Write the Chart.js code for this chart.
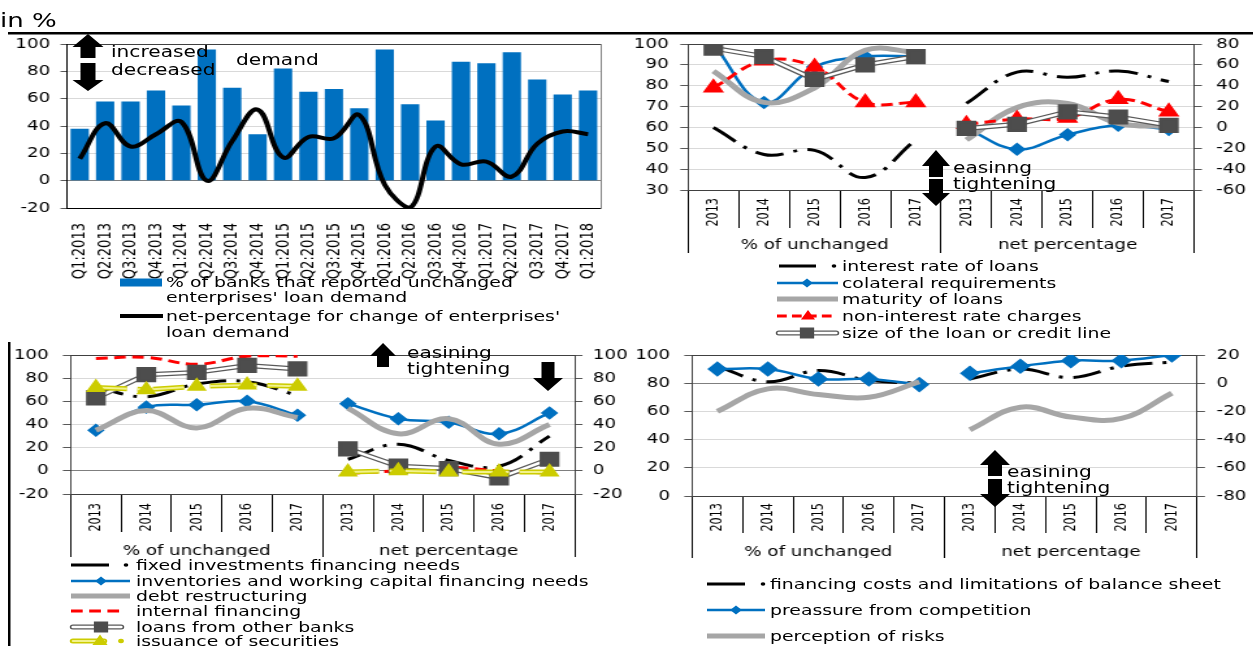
<!DOCTYPE html>
<html>
<head>
<meta charset="utf-8">
<script src="https://cdn.jsdelivr.net/npm/chart.js@4.4.1/dist/chart.umd.min.js"></script>
<style>
html, body { margin: 0; padding: 0; background: #fff; }
body { width: 1253px; height: 646px; overflow: hidden; position: relative; font-family: 'DejaVu Sans', sans-serif; }
#stage { position: absolute; left: 0; top: 0; width: 964px; height: 646px; transform: scaleX(1.3); transform-origin: 0 0; }
.t { position: absolute; white-space: nowrap; color: #000; }
svg { position: absolute; left: 0; top: 0; }
</style>
</head>
<body>
<div id="stage"></div>
<script>
// the whole picture is stretched sideways, so everything is laid out narrow and scaled by S
const S = 1.3;

// chart 1 - demand
const quarters = ['Q1:2013','Q2:2013','Q3:2013','Q4:2013','Q1:2014','Q2:2014','Q3:2014','Q4:2014','Q1:2015','Q2:2015','Q3:2015','Q4:2015','Q1:2016','Q2:2016','Q3:2016','Q4:2016','Q1:2017','Q2:2017','Q3:2017','Q4:2017','Q1:2018'];
const unchangedDemand = [38, 58, 58, 66, 55, 96, 68, 34, 82, 65, 67, 53, 96, 56, 44, 87, 86, 94, 74, 63, 66];
const netDemand = [16, 42, 25, 34, 43, 0, 29, 52, 17, 32, 31, 48, -3, -20, 25, 12, 14, 3, 27, 36, 34];

// charts 2-4: first five values are % of unchanged (left axis), last five net percentage (right axis)
const years = ['2013','2014','2015','2016','2017','2013','2014','2015','2016','2017'];
const groups = ['% of unchanged', 'net percentage'];

const interestRate = [60, 47, 49, 36, 54, 23, 53, 48, 54, 44];
const collateral = [100, 72, 89, 94, 94, -1, -21, -7, 2, -2];
const maturity = [87, 72, 79, 97, 96, -12, 19, 23, 4, 1];
const nonInterest = [79, 92, 89, 72, 72, 3, 8, 9, 27, 15];
const loanSize = [98, 94, 83, 90, 94, -1, 3, 15, 10, 2];

const fixedInvestment = [72, 64, 75, 77, 65, 10, 23, 9, 4, 30];
const inventories = [35, 55, 57, 60, 48, 58, 45, 42, 32, 50];
const debtRestructuring = [35, 52, 37, 54, 46, 54, 32, 45, 23, 40];
const internalFinancing = [97, 98, 92, 99, 99, -2, 0, 3, 0, -2];
const otherBanks = [63, 83, 85, 91, 88, 19, 4, 2, -6, 10];
const securities = [72, 70, 73, 74, 73, -1, 0, -1, -1, -1];

const financingCosts = [92, 81, 89, 82, 80, 3, 10, 4, 12, 15];
const competition = [90, 90, 83, 83, 79, 7, 12, 16, 16, 20];
const riskPerception = [60, 76, 72, 70, 81, -33, -17, -24, -25, -7];

Chart.defaults.font.family = "'DejaVu Sans', sans-serif";
Chart.defaults.font.size = 14;
Chart.defaults.color = '#000';
Chart.defaults.animation = false;
Chart.defaults.events = [];
Chart.defaults.plugins.legend.display = false;
Chart.defaults.plugins.tooltip.enabled = false;

const stage = document.getElementById('stage');
const condensed = "'DejaVu Sans Condensed', 'DejaVu Sans', sans-serif";

function makeCanvas(x, y, w, h) {
  const c = document.createElement('canvas');
  const W = Math.round(w / S);
  c.width = W; c.height = h;
  c.style.position = 'absolute';
  c.style.left = (x / S) + 'px';
  c.style.top = y + 'px';
  stage.appendChild(c);
  return c;
}

function text(x, yc, html, size, lh) {
  const d = document.createElement('div');
  d.className = 't';
  d.style.left = (x / S) + 'px';
  d.style.top = (yc - lh / 2) + 'px';
  d.style.fontSize = size + 'px';
  d.style.lineHeight = lh + 'px';
  d.innerHTML = html;
  stage.appendChild(d);
}

function gridColor(top, dark) {
  return ctx => {
    const v = ctx.tick.value;
    if (v === top) return '#404040';
    if (v === dark) return '#7F7F7F';
    return '#D9D9D9';
  };
}

// fixed axis width, and no extra room above/below for the end labels
function fixW(w) {
  return s => { s.width = w; s.paddingTop = 0; s.paddingBottom = 0; };
}

// one series = two datasets, left part on y and right part on y2, no line across the gap
function pair(label, values, style, k, shift) {
  const gap = [null, null, null, null, null];
  const ord = 100 - 10 * k + (shift || 0);
  return [
    Object.assign({ label: label, order: ord, yAxisID: 'y', data: values.slice(0, 5).concat(gap) }, style),
    Object.assign({ label: label, order: ord, yAxisID: 'y2', data: gap.concat(values.slice(5)) }, style)
  ];
}
function tube(label, values, outer, inner, k) {
  return pair(label, values, Object.assign({ pointRadius: 0, tension: 0 }, outer), k)
    .concat(pair(label, values, Object.assign({ tension: 0 }, inner), k, -1));
}

const dashDot = { borderColor: '#000', borderWidth: 3, borderDash: [22, 8, 3, 8], pointRadius: 0, tension: 0.4 };
const blueLine = { borderColor: '#0070C0', borderWidth: 2.5, pointStyle: 'rectRot', pointRadius: 5, pointBackgroundColor: '#0070C0', pointBorderColor: '#0070C0', tension: 0.4 };
const grayLine = { borderColor: '#A6A6A6', borderWidth: 5, pointRadius: 0, tension: 0.4 };
const redTri = { borderColor: '#FF0000', borderWidth: 3, borderDash: [9, 5], pointStyle: 'triangle', pointRadius: 6.5, pointBackgroundColor: '#FF0000', pointBorderColor: '#FF0000', tension: 0.4 };
const redDash = { borderColor: '#FF0000', borderWidth: 3, borderDash: [9, 5], pointRadius: 0, tension: 0.4 };
const sqOuter = { borderColor: '#595959', borderWidth: 5 };
const sqInner = { borderColor: '#FFFFFF', borderWidth: 2.5, pointStyle: 'rect', pointRadius: 9, pointBackgroundColor: '#4D4D4D', pointBorderColor: '#4D4D4D' };
const ylOuter = { borderColor: '#CCCC00', borderWidth: 5, borderDash: [24, 8, 4, 8] };
const ylInner = { borderColor: '#F2F28C', borderWidth: 2, borderDash: [24, 8, 4, 8], pointStyle: 'triangle', pointRadius: 7, pointBackgroundColor: '#CCCC00', pointBorderColor: '#CCCC00' };

function panelChart(canvas, datasets, o) {
  return new Chart(canvas, {
    type: 'line',
    data: { labels: years, datasets: datasets },
    options: {
      responsive: false,
      layout: { autoPadding: false, padding: { top: o.padTop, bottom: o.padBottom, left: 0, right: 0 } },
      scales: {
        x: {
          weight: 0, offset: true,
          grid: { offset: true, drawOnChartArea: false, tickLength: o.band1, color: '#000' },
          border: { color: '#404040' },
          ticks: { autoSkip: false, minRotation: 90, maxRotation: 90, padding: o.gap - o.band1, font: { family: condensed, size: 12.5 } },
          afterFit: s => { s.height = o.band1; }
        },
        g: {
          type: 'category', axis: 'x', position: 'bottom', weight: 1,
          labels: groups, offset: true,
          grid: { offset: true, drawOnChartArea: false, tickLength: o.band2, color: '#000' },
          border: { display: false },
          ticks: { autoSkip: false, minRotation: 0, maxRotation: 0, padding: o.gpad, font: { size: 14 } },
          afterFit: s => { s.height = o.band2; }
        },
        y: {
          position: 'left', min: o.y[0], max: o.y[1],
          ticks: { stepSize: o.y[2], padding: o.lpad, autoSkip: false },
          grid: { color: gridColor(o.y[1], o.dark), tickLength: 6, tickColor: '#595959' },
          border: { color: '#404040' },
          afterFit: fixW(o.leftW)
        },
        y2: {
          position: 'right', min: o.y2[0], max: o.y2[1],
          ticks: { stepSize: o.y2[2], padding: o.rpad, autoSkip: false },
          grid: { drawOnChartArea: false, tickLength: 6, color: '#595959' },
          border: { color: '#404040' },
          afterFit: fixW(o.rightW)
        }
      }
    }
  });
}

// ---- chart 1
const c1 = makeCanvas(0, 36, 620, 246);
new Chart(c1, {
  type: 'bar',
  data: {
    labels: quarters,
    datasets: [
      { type: 'line', label: "net-percentage for change of enterprises' loan demand", data: netDemand, borderColor: '#000', borderWidth: 4, pointRadius: 0, tension: 0.4, order: 0 },
      { type: 'bar', label: "% of banks that reported unchanged enterprises' loan demand", data: unchangedDemand, backgroundColor: '#0070C0', barPercentage: 0.72, categoryPercentage: 1, order: 1 }
    ]
  },
  options: {
    responsive: false,
    layout: { autoPadding: false, padding: { top: 8, right: 477 - 604 / S - 2.5, left: 0, bottom: 0 } },
    scales: {
      x: {
        grid: { display: false },
        border: { color: '#000' },
        ticks: { autoSkip: false, minRotation: 90, maxRotation: 90, padding: 7, font: { family: condensed, size: 14.5 } },
        afterFit: s => { s.height = 74; }
      },
      y: {
        min: -20, max: 100,
        ticks: { stepSize: 20, padding: 8, autoSkip: false },
        grid: { color: gridColor(100, 0), tickLength: 5, tickColor: '#595959' },
        border: { color: '#000' },
        afterFit: fixW(67 / S)
      },
      y2: {
        position: 'right', min: -20, max: 100,
        ticks: { display: false }, grid: { display: false },
        border: { color: '#808080' },
        afterFit: fixW(0)
      }
    }
  }
});

// ---- chart 2
const c2 = makeCanvas(620, 36, 633, 220);
panelChart(c2, [].concat(
  pair('interest rate of loans', interestRate, dashDot, 0),
  pair('colateral requirements', collateral, blueLine, 1),
  pair('maturity of loans', maturity, grayLine, 2),
  pair('non-interest rate charges', nonInterest, redTri, 3),
  tube('size of the loan or credit line', loanSize, sqOuter, sqInner, 4)
), { padTop: 8, padBottom: 3, band1: 38, band2: 25, gap: 8, gpad: -16.4,
     leftW: (688 - 620) / S, rightW: 487 - (1194 - 620) / S, lpad: 9, rpad: 11,
     y: [30, 100, 10], y2: [-60, 80, 20], dark: null });

// ---- chart 3
const c3 = makeCanvas(12, 345, 628, 215);
panelChart(c3, [].concat(
  pair('fixed investments financing needs', fixedInvestment, dashDot, 0),
  pair('inventories and working capital financing needs', inventories, blueLine, 1),
  pair('debt restructuring', debtRestructuring, grayLine, 2),
  pair('internal financing', internalFinancing, redDash, 3),
  tube('loans from other banks', otherBanks, sqOuter, sqInner, 4),
  tube('issuance of securities', securities, ylOuter, ylInner, 5)
), { padTop: 10, padBottom: 3, band1: 38, band2: 25, gap: 9, gpad: -14.4,
     leftW: (71 - 12) / S, rightW: 483 - (575 - 12) / S, lpad: 11, rpad: 8,
     y: [-20, 100, 20], y2: [-20, 100, 20], dark: 0 });

// ---- chart 4
const c4 = makeCanvas(620, 345, 633, 216);
panelChart(c4, [].concat(
  pair('financing costs and limitations of balance sheet', financingCosts, dashDot, 0),
  pair('preassure from competition', competition, Object.assign({}, blueLine, { pointRadius: 6 }), 1),
  pair('perception of risks', riskPerception, grayLine, 2)
), { padTop: 10, padBottom: 3, band1: 37, band2: 25, gap: 7, gpad: -14.4,
     leftW: (692 - 620) / S, rightW: 487 - (1197 - 620) / S, lpad: 11, rpad: 9,
     y: [0, 100, 20], y2: [-80, 20, 20], dark: 80 });

// ---- overlay: rules, arrows, legend keys
let svg = '';
const n = v => (v / S).toFixed(2);
function sLine(x1, x2, y, color, w, dash, cap) {
  svg += '<line x1="' + n(x1) + '" y1="' + y + '" x2="' + n(x2) + '" y2="' + y + '" stroke="' + color + '" stroke-width="' + w + '"' +
    (dash ? ' stroke-dasharray="' + dash + '"' : '') + (cap ? ' stroke-linecap="' + cap + '"' : '') + '/>';
}
function poly(pts, color) {
  svg += '<polygon points="' + pts.map(p => p[0].toFixed(2) + ',' + p[1].toFixed(2)).join(' ') + '" fill="' + color + '"/>';
}
function mark(cx, cy, shape, r, color) {
  const x = cx / S;
  if (shape === 'diamond') poly([[x, cy - r], [x + r, cy], [x, cy + r], [x - r, cy]], color);
  if (shape === 'triangle') poly([[x, cy - r], [x + r * 0.9, cy + r * 0.6], [x - r * 0.9, cy + r * 0.6]], color);
  if (shape === 'square') poly([[x - r, cy - r], [x + r, cy - r], [x + r, cy + r], [x - r, cy + r]], color);
}
function dot(cx, cy, r, color) {
  svg += '<circle cx="' + n(cx) + '" cy="' + cy + '" r="' + r + '" fill="' + color + '"/>';
}
function arrow(cx, y1, y2, up, hh, hw, sw) {
  const x = cx / S, a = hw / S / 2, b = sw / S / 2;
  if (up) poly([[x, y1], [x + a, y1 + hh], [x + b, y1 + hh], [x + b, y2], [x - b, y2], [x - b, y1 + hh], [x - a, y1 + hh]], '#000');
  else poly([[x, y2], [x + a, y2 - hh], [x + b, y2 - hh], [x + b, y1], [x - b, y1], [x - b, y2 - hh], [x - a, y2 - hh]], '#000');
}

// page rules
svg += '<rect x="' + n(8) + '" y="32" width="' + n(1245) + '" height="2.5" fill="#000"/>';
svg += '<rect x="' + n(8) + '" y="342" width="' + n(2.5) + '" height="304" fill="#000"/>';

// arrows
arrow(88, 34, 58, true, 13, 31, 15);
arrow(88, 63, 91, false, 11, 31, 15);
arrow(936, 150, 177, true, 16, 28, 14);
arrow(936, 179, 206, false, 13, 28, 14);
arrow(383, 343, 367, true, 13, 26, 12);
arrow(548, 362, 391, false, 13, 30, 13);
arrow(995, 450, 476, true, 15, 30, 14);
arrow(995, 479, 507, false, 13, 30, 14);

// legend keys chart 1
svg += '<rect x="' + n(120) + '" y="278.5" width="' + n(42) + '" height="8" fill="#0070C0"/>';
sLine(120, 163, 316, '#000', 4);

// legend keys chart 2
const l2 = [266, 283, 299, 316, 333];
sLine(779, 816, l2[0], '#000', 3); dot(834, l2[0], 1.8, '#000');
sLine(777, 838, l2[1], '#0070C0', 2.5); mark(807, l2[1], 'diamond', 4.5, '#0070C0');
sLine(777, 838, l2[2], '#A6A6A6', 5);
sLine(777, 832, l2[3], '#FF0000', 3, '7.5,4'); mark(808, l2[3], 'triangle', 6, '#FF0000');
sLine(779, 836, l2[4], '#595959', 5, null, 'round'); sLine(779, 836, l2[4], '#FFFFFF', 2.5, null, 'round'); mark(807, l2[4], 'square', 5.5, '#4D4D4D');

// legend keys chart 3
const l3 = [565, 581, 596, 611, 627, 641];
sLine(71, 109, l3[0], '#000', 3); dot(126, l3[0], 1.8, '#000');
sLine(71, 130, l3[1], '#0070C0', 2.5); mark(101, l3[1], 'diamond', 4.5, '#0070C0');
sLine(71, 130, l3[2], '#A6A6A6', 5);
sLine(71, 125, l3[3], '#FF0000', 3, '9,5');
sLine(73, 121, l3[4], '#595959', 5, null, 'round'); sLine(73, 121, l3[4], '#FFFFFF', 2.5, null, 'round'); mark(101, l3[4], 'square', 5.5, '#4D4D4D');
sLine(73, 104, l3[5], '#CCCC00', 5, null, 'round'); sLine(73, 104, l3[5], '#F2F28C', 2, null, 'round');
mark(100, l3[5], 'triangle', 6.5, '#CCCC00'); dot(121, l3[5], 2.2, '#CCCC00');

// legend keys chart 4
const l4 = [584, 610, 636];
sLine(707, 745, l4[0], '#000', 3); dot(763, l4[0], 1.8, '#000');
sLine(707, 765, l4[1], '#0070C0', 2.5); mark(736, l4[1], 'diamond', 4.5, '#0070C0');
sLine(707, 765, l4[2], '#A6A6A6', 5);

stage.insertAdjacentHTML('beforeend', '<svg width="964" height="646" viewBox="0 0 964 646">' + svg + '</svg>');

// texts
text(0, 20, 'in %', 20, 24);
text(111, 52, 'increased', 15.5, 18);
text(111, 70, 'decreased', 15.5, 18);
text(236, 60, 'demand', 15.5, 18);
text(953, 168, 'easinng', 15.5, 16);
text(953, 184, 'tightening', 15.5, 16);
text(407, 353, 'easining', 15.5, 16);
text(407, 369, 'tightening', 15.5, 16);
text(1007, 472, 'easining', 15.5, 16);
text(1007, 488, 'tightening', 15.5, 16);

text(166, 282, "% of banks that reported unchanged<br>enterprises' loan demand", 14.5, 15);
text(166, 316, "net-percentage for change of enterprises'<br>loan demand", 14.5, 16);

['interest rate of loans', 'colateral requirements', 'maturity of loans', 'non-interest rate charges', 'size of the loan or credit line']
  .forEach((s, i) => text(842, l2[i], s, 14.5, 16));
['fixed investments financing needs', 'inventories and working capital financing needs', 'debt restructuring', 'internal financing', 'loans from other banks', 'issuance of securities']
  .forEach((s, i) => text(136, l3[i], s, 14.5, 16));
['financing costs and limitations of balance sheet', 'preassure from competition', 'perception of risks']
  .forEach((s, i) => text(770, l4[i], s, 14.5, 16));
</script>
</body>
</html>
